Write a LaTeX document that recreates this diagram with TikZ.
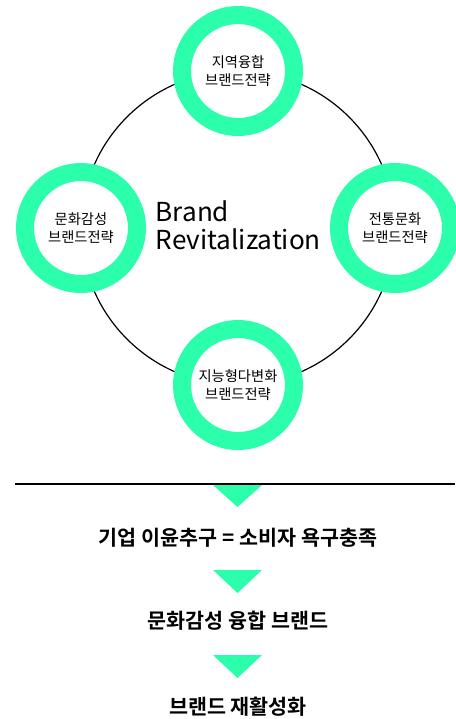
\documentclass[tikz,border=0pt]{standalone}
\usepackage{fontspec}
\setmainfont{Noto Sans CJK KR}
\newfontfamily\krbold{Noto Sans CJK KR Bold}
\usepackage{tikz}
\usetikzlibrary{positioning}
\definecolor{mint}{HTML}{2BFFAB}
\tikzset{
x=0.75pt, y=-0.75pt, % one unit is one pixel of the reference
ring/.style={circle, draw=mint, line width=13.5pt, fill=white, minimum size=84pt, inner sep=0pt, align=center, font=\fontsize{10.7}{14}\selectfont}, % the green rings
arrowdown/.style={fill=mint, draw=none}, % the green down triangles
stage/.style={font=\krbold\fontsize{15.5}{18}\selectfont}, % the bold lines of text
}
\begin{document}
\begin{tikzpicture}
\useasboundingbox (0,0) rectangle (455,719);

\coordinate (hub) at (238,228);
\draw[line width=0.9pt] (hub) circle[radius=117.75pt];

\node[ring] (top) at (238,71) {지역융합\\브랜드전략};
\node[ring] (left) at (81,228) {문화감성\\브랜드전략};
\node[ring] (right) at (395,228) {전통문화\\브랜드전략};
\node[ring] (bottom) at (238,385) {지능형다변화\\브랜드전략};

\node[anchor=west, align=left, font=\fontsize{19.6}{21}\selectfont] (title) at (151,225) {Brand\\Revitalization};

\coordinate (lineL) at (15,484);
\coordinate (lineR) at (455,484);
\draw[line width=1.1pt] (lineL) -- (lineR);

\fill[arrowdown] (213,485) -- (262,485) -- (237.5,507) -- cycle;
\node[stage] (goal) at (238,538) {기업 이윤추구 = 소비자 욕구충족};
\fill[arrowdown] (213,570) -- (262,570) -- (237.5,593) -- cycle;
\node[stage] (fusion) at (238,621) {문화감성 융합 브랜드};
\fill[arrowdown] (213,655) -- (262,655) -- (237.5,678) -- cycle;
\node[stage] (revive) at (238,707) {브랜드 재활성화};
\end{tikzpicture}
\end{document}
